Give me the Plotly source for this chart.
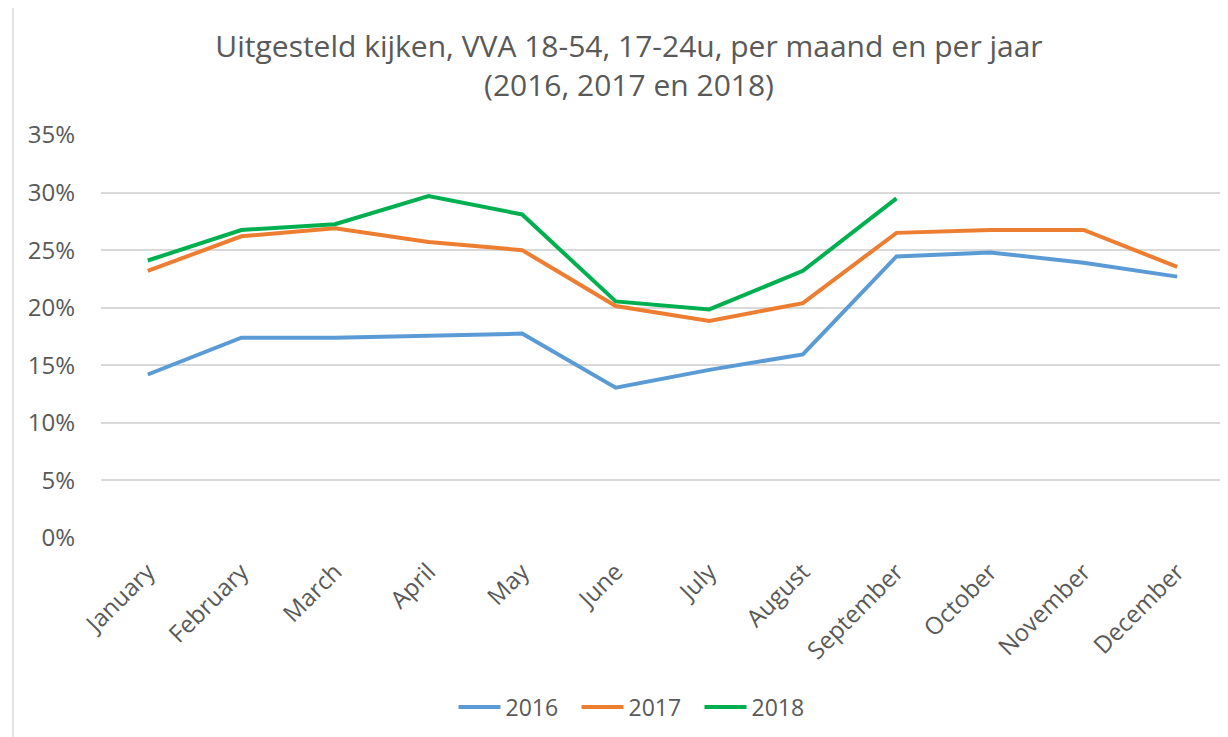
import plotly.graph_objects as go

months = ["January", "February", "March", "April", "May", "June", "July",
          "August", "September", "October", "November", "December"]
y2016 = [14.2, 17.4, 17.4, 17.55, 17.75, 13.05, 14.6, 15.95, 24.45, 24.8, 23.9, 22.7]
y2017 = [23.2, 26.2, 26.9, 25.7, 25.0, 20.15, 18.85, 20.4, 26.5, 26.75, 26.75, 23.55]
y2018 = [24.1, 26.75, 27.25, 29.7, 28.1, 20.55, 19.85, 23.2, 29.5, None, None, None]

series = [("2016", y2016, "#5B9BD5"), ("2017", y2017, "#ED7D31"), ("2018", y2018, "#00B050")]
yticks = [0, 5, 10, 15, 20, 25, 30, 35]

FONT = "Open Sans"
TXT = "#595959"

fig = go.Figure()
for name, vals, col in series:
    fig.add_trace(go.Scatter(x=months, y=vals, name=name, mode="lines",
                             line=dict(color=col, width=4), connectgaps=False))

# page has an 8px body margin: convert screen coords to figure coords
OFF = 8
W, H = 1228, 737
L, R, T, B = 101 - OFF, 1224 - OFF, 135 - OFF, 538.3 - OFF
def px(x):
    return (x - OFF - L) / (R - L)
def py(y):
    return (B - (y - OFF)) / (B - T)

fig.update_layout(
    width=W, height=H,
    margin=dict(l=L, r=W - R, t=T, b=H - B, autoexpand=False),
    paper_bgcolor="white", plot_bgcolor="white",
    font=dict(family=FONT, color=TXT, size=21),
    title=dict(text="Uitgesteld kijken, VVA 18-54, 17-24u, per maand en per jaar<br>(2016, 2017 en 2018)",
               x=(629 - OFF) / W, xanchor="center", y=1 - (57 - OFF) / H, yanchor="top",
               yref="container", xref="container",
               font=dict(family=FONT, size=30, color=TXT)),
    xaxis=dict(type="category", tickangle=-45, showgrid=False, showline=False,
               ticks="", tickfont=dict(size=24, color=TXT), range=[-0.5, 11.5],
               ticklabelstandoff=14),
    yaxis=dict(range=[0, 35], tickvals=yticks, ticktext=[f"{v}%" for v in yticks],
               showgrid=True, gridcolor="#D9D9D9", gridwidth=1.5, zeroline=False,
               showline=False, ticks="", tickfont=dict(size=24, color=TXT), ticklabelstandoff=25),
    legend=dict(orientation="h", x=(638 - OFF) / W, xanchor="center", xref="container",
                y=1 - (707 - OFF) / H, yanchor="middle", yref="container",
                font=dict(size=23, color=TXT), itemwidth=42, traceorder="normal",
                entrywidth=66, entrywidthmode="pixels"),
    showlegend=True,
    shapes=[
        dict(type="rect", xref="paper", yref="paper", x0=px(-5), x1=px(1240), y0=py(-5), y1=py(5),
             fillcolor="#F2F3F5", line=dict(width=0), layer="below"),
        dict(type="line", xref="paper", yref="paper", x0=px(13), x1=px(1240), y0=py(6), y1=py(6),
             line=dict(color="#D9D9D9", width=1.5)),
        dict(type="line", xref="paper", yref="paper", x0=px(13), x1=px(13), y0=py(6), y1=py(745),
             line=dict(color="#D9D9D9", width=1.5)),
    ],
)

fig.write_html("out.html")
